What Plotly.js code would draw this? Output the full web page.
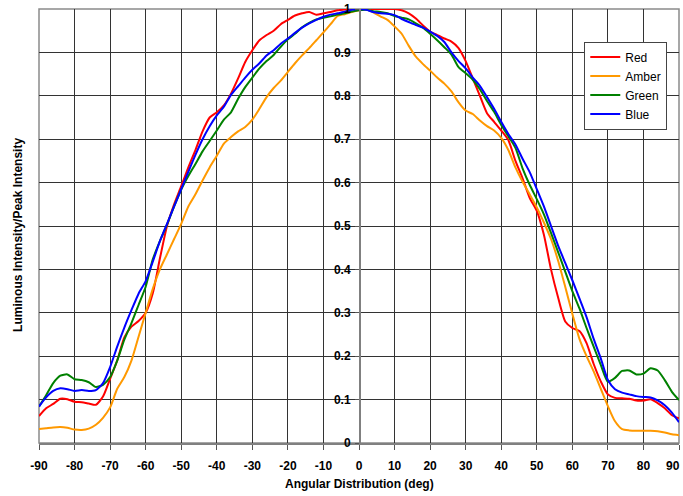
<!DOCTYPE html>
<html>
<head>
<meta charset="utf-8">
<script src="https://cdn.plot.ly/plotly-3.0.1.min.js"></script>
<style>
html,body{margin:0;padding:0;background:#fff;}
#chart{width:683px;height:496px;}
</style>
</head>
<body>
<div id="chart"></div>
<script>
// Angular positions (deg)
var angles = [];
for (var a = -90; a <= 90; a += 2) angles.push(a);

var red = [0.062,0.080,0.090,0.102,0.101,0.095,0.094,0.091,0.088,0.107,
0.148,0.190,0.243,0.268,0.281,0.300,0.345,0.425,0.500,0.550,
0.592,0.635,0.675,0.718,0.750,0.762,0.778,0.805,0.840,0.878,
0.905,0.928,0.940,0.950,0.965,0.975,0.985,0.990,0.993,0.987,
0.990,0.993,0.997,0.999,1.000,1.000,1.000,1.000,1.000,1.000,
1.000,0.997,0.990,0.978,0.962,0.948,0.940,0.932,0.925,0.910,
0.880,0.840,0.800,0.760,0.740,0.720,0.698,0.650,0.610,0.565,
0.535,0.480,0.400,0.335,0.280,0.265,0.258,0.230,0.182,0.142,
0.112,0.104,0.103,0.102,0.098,0.098,0.101,0.092,0.080,0.064,0.057];

var amber = [0.032,0.034,0.036,0.037,0.035,0.031,0.030,0.033,0.042,0.058,
0.082,0.125,0.152,0.190,0.245,0.300,0.355,0.400,0.435,0.470,
0.505,0.545,0.573,0.605,0.635,0.662,0.690,0.705,0.718,0.728,
0.745,0.770,0.797,0.818,0.835,0.855,0.875,0.893,0.910,0.928,
0.946,0.965,0.984,0.988,0.993,0.997,1.000,0.992,0.983,0.975,
0.960,0.943,0.915,0.890,0.873,0.858,0.842,0.828,0.810,0.785,
0.766,0.758,0.743,0.730,0.720,0.703,0.675,0.635,0.602,0.573,
0.543,0.508,0.470,0.420,0.360,0.298,0.240,0.200,0.165,0.125,
0.085,0.050,0.032,0.029,0.028,0.028,0.028,0.027,0.024,0.020,0.018];

var green = [0.084,0.110,0.138,0.155,0.158,0.147,0.145,0.140,0.129,0.134,
0.152,0.190,0.238,0.276,0.318,0.360,0.423,0.465,0.503,0.545,
0.584,0.615,0.643,0.672,0.696,0.720,0.745,0.762,0.793,0.820,
0.842,0.863,0.880,0.894,0.913,0.930,0.943,0.958,0.968,0.976,
0.980,0.983,0.987,0.990,0.994,0.997,0.998,0.995,0.993,0.990,
0.984,0.980,0.976,0.967,0.957,0.943,0.928,0.912,0.895,0.866,
0.852,0.837,0.815,0.788,0.763,0.733,0.707,0.680,0.633,0.595,
0.562,0.527,0.484,0.440,0.395,0.350,0.310,0.265,0.222,0.180,
0.141,0.150,0.166,0.167,0.158,0.160,0.172,0.167,0.145,0.118,0.099];

var blue = [0.084,0.105,0.120,0.126,0.124,0.120,0.122,0.120,0.122,0.138,
0.175,0.222,0.266,0.306,0.344,0.373,0.418,0.465,0.505,0.545,
0.585,0.625,0.664,0.700,0.730,0.755,0.775,0.802,0.822,0.842,
0.860,0.875,0.893,0.905,0.920,0.932,0.945,0.957,0.967,0.975,
0.982,0.987,0.990,0.994,0.998,1.000,0.998,0.993,0.990,0.989,
0.986,0.977,0.970,0.963,0.957,0.948,0.938,0.924,0.900,0.880,
0.863,0.842,0.823,0.797,0.770,0.740,0.712,0.688,0.655,0.624,
0.585,0.545,0.500,0.455,0.415,0.375,0.333,0.290,0.240,0.195,
0.145,0.124,0.116,0.112,0.108,0.106,0.105,0.098,0.087,0.070,0.048];

var seriesNames = ['Red','Amber','Green','Blue'];
var seriesColors = ['#FF0000','#FF9900','#008000','#0000FF'];
var seriesData = [red, amber, green, blue];

var xTickVals = [-90,-80,-70,-60,-50,-40,-30,-20,-10,0,10,20,30,40,50,60,70,80,90];
var xTickText = ['-90','-80','-70','-60','-50','-40','-30','-20','-10','0','10','20','30','40','50','60','70','80','90'];
var yTickVals = [0,0.1,0.2,0.3,0.4,0.5,0.6,0.7,0.8,0.9,1];
var yTickText = ['0','0.1','0.2','0.3','0.4','0.5','0.6','0.7','0.8','0.9','1'];

// the last x label sits at the right edge; draw it right-aligned so it stays visible
var lastLabel = xTickText[xTickText.length - 1];
var axisTickText = xTickText.slice(0, -1).concat(['']);

var traces = seriesData.map(function(d, i){
  return {
    x: angles, y: d, type: 'scatter', mode: 'lines',
    name: seriesNames[i],
    line: {color: seriesColors[i], width: 2, shape: 'spline', smoothing: 0.6}
  };
});

var FONT = 'Liberation Sans, Arial, sans-serif';
var TICKFONT = {family: FONT, size: 12, weight: 'bold', color: '#000'};
var layout = {
  width: 683, height: 496,
  margin: {l: 39, r: 4, t: 9, b: 53, pad: 0},
  paper_bgcolor: '#fff', plot_bgcolor: '#fff',
  showlegend: true,
  font: {family: FONT, color: '#000'},
  xaxis: {
    range: [-90, 90], tickvals: xTickVals, ticktext: axisTickText,
    showgrid: true, gridcolor: '#333', gridwidth: 1,
    zeroline: false,
    showline: true, linecolor: '#808080', linewidth: 2, mirror: false,
    ticks: 'outside', ticklen: 5, tickcolor: '#555', tickwidth: 1,
    tickfont: TICKFONT,
    ticklabelstandoff: 6, ticklabeloverflow: 'allow',
    fixedrange: true
  },
  yaxis: {
    range: [0, 1], tickvals: yTickVals, ticktext: yTickText,
    anchor: 'free', position: 0.5,
    showgrid: true, gridcolor: '#333', gridwidth: 1,
    zeroline: false,
    showline: true, linecolor: '#808080', linewidth: 1.5,
    ticks: 'outside', ticklen: 4, tickcolor: '#555', tickwidth: 1,
    tickfont: TICKFONT,
    ticklabelstandoff: 2, ticklabeloverflow: 'allow',
    fixedrange: true
  },
  shapes: [
    {type: 'rect', xref: 'paper', yref: 'paper', x0: 0, x1: 1, y0: 0, y1: 1,
     line: {color: '#8a8a8a', width: 1.5}, layer: 'below'}
  ],
  legend: {
    x: 0.852, y: 0.925, xanchor: 'left', yanchor: 'top',
    bgcolor: '#fff', bordercolor: '#444', borderwidth: 1,
    font: {family: FONT, size: 12, color: '#000'},
    tracegroupgap: 0, itemwidth: 30
  },
  annotations: [
    {text: 'Luminous Intensity/Peak Intensity', xref: 'paper', yref: 'paper',
     x: -0.034, y: 0.48, xanchor: 'center', yanchor: 'middle', textangle: -90,
     showarrow: false, font: {family: FONT, size: 12, weight: 'bold', color: '#000'}},
    {text: 'Angular Distribution (deg)', xref: 'paper', yref: 'paper',
     x: 0.5, y: -0.094, xanchor: 'center', yanchor: 'middle',
     showarrow: false, font: {family: FONT, size: 12, weight: 'bold', color: '#000'}},
    {text: lastLabel, xref: 'paper', yref: 'paper',
     x: 1, xshift: 3, y: -0.052, xanchor: 'right', yanchor: 'middle',
     showarrow: false, font: TICKFONT}
  ]
};

Plotly.newPlot('chart', traces, layout, {displayModeBar: false, staticPlot: true});
</script>
</body>
</html>
